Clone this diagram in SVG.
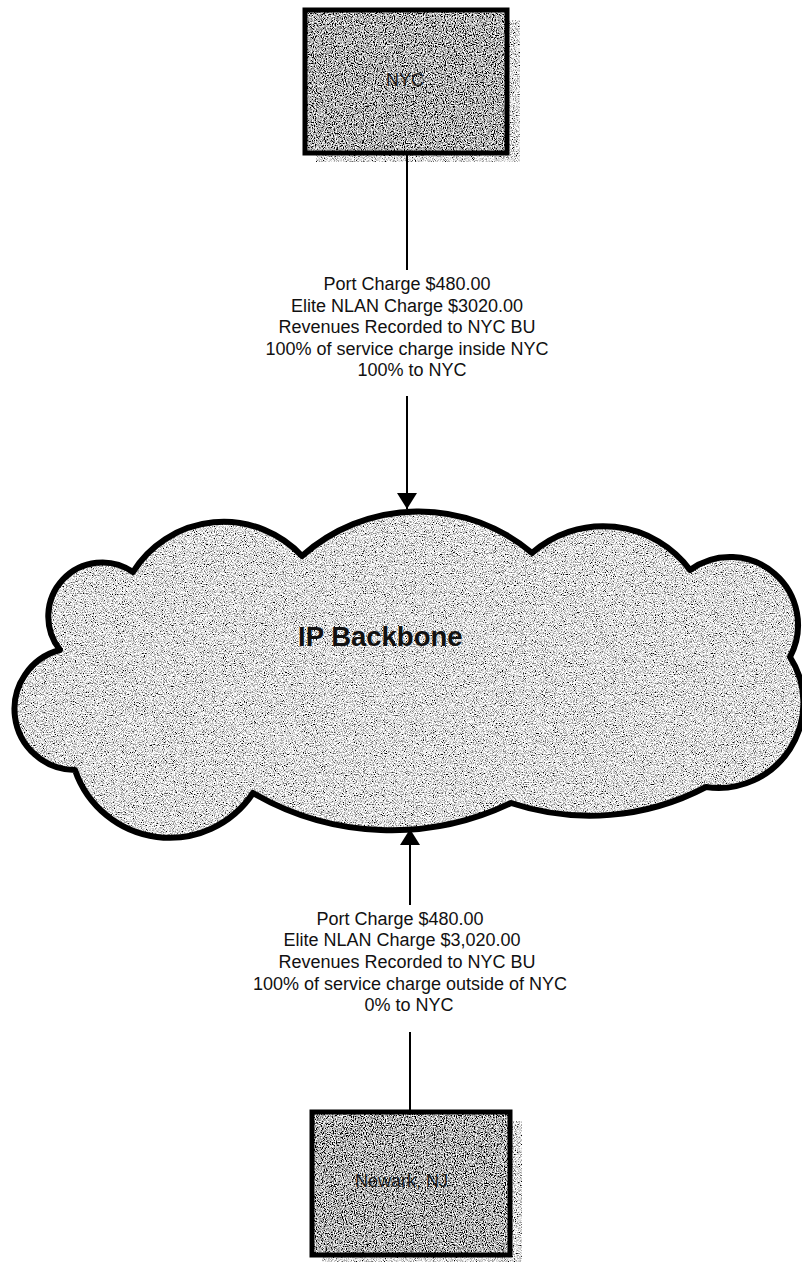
<svg xmlns="http://www.w3.org/2000/svg" width="802" height="1263" viewBox="0 0 802 1263">
  <style>
    .lbl { font-family: "Liberation Sans", Arial, sans-serif; font-size: 18px; fill: #111; text-anchor: middle; }
    .box-lbl { font-family: "Liberation Sans", Arial, sans-serif; font-size: 18px; fill: #1a1a1a; }
    .title { font-family: "Liberation Sans", Arial, sans-serif; font-size: 27.5px; font-weight: bold; fill: #111; }
    .edge { stroke: #000; stroke-width: 2; fill: none; }
    .frame { fill: none; stroke: #000; stroke-width: 5; }
  </style>
  <defs>
    <!-- speckled halftone texture, clipped to the shape it is applied to -->
    <filter id="grainDark" x="0" y="0" width="100%" height="100%">
      <feTurbulence type="fractalNoise" baseFrequency="0.9" numOctaves="2" seed="3" result="n"/>
      <feColorMatrix in="n" type="matrix" values="3 0 0 0 -1.05  3 0 0 0 -1.05  3 0 0 0 -1.05  0 0 0 0 1" result="g"/>
      <feComposite in="g" in2="SourceGraphic" operator="in"/>
    </filter>
    <filter id="grainLight" x="0" y="0" width="100%" height="100%">
      <feTurbulence type="fractalNoise" baseFrequency="0.9" numOctaves="2" seed="7" result="n"/>
      <feColorMatrix in="n" type="matrix" values="3 0 0 0 -0.75  3 0 0 0 -0.75  3 0 0 0 -0.75  0 0 0 0 1" result="g"/>
      <feComposite in="g" in2="SourceGraphic" operator="in"/>
    </filter>
    <marker id="arrow" viewBox="0 0 16 20" refX="16" refY="10" markerWidth="16" markerHeight="20" markerUnits="userSpaceOnUse" orient="auto">
      <path d="M0,0 L16,10 L0,20 Z" fill="#000"/>
    </marker>
    <path id="cloudShape" d="M302,556
      A175,175 0 0,1 532,553
      A108,108 0 0,1 690,570
      A68,68 0 0,1 790,657
      A85,85 0 0,1 706,787
      A250,250 0 0,1 511,803
      A276,276 0 0,1 253,793
      A100,100 0 0,1 75,770
      A61,61 0 0,1 60,650
      A54,54 0 0,1 133,572
      A107,107 0 0,1 302,556 Z"/>
  </defs>

  <rect width="802" height="1263" fill="#fff"/>

  <!-- NYC site -->
  <g id="nyc">
    <rect x="316" y="20" width="204" height="142" fill="#000" filter="url(#grainLight)"/>
    <rect x="305" y="10" width="202" height="143" fill="#000" filter="url(#grainDark)"/>
    <rect class="frame" x="305" y="10" width="202" height="143"/>
    <text class="box-lbl" x="386" y="86">NYC</text>
  </g>

  <!-- IP backbone cloud -->
  <g id="backbone">
    <use href="#cloudShape" fill="#000" filter="url(#grainLight)"/>
    <use href="#cloudShape" fill="none" stroke="#000" stroke-width="6" stroke-linejoin="round"/>
    <text class="title" x="298" y="646">IP Backbone</text>
  </g>

  <!-- Newark site -->
  <g id="newark">
    <rect x="322" y="1121" width="200" height="141" fill="#000" filter="url(#grainLight)"/>
    <rect x="312" y="1112" width="198" height="143" fill="#000" filter="url(#grainDark)"/>
    <rect class="frame" x="312" y="1112" width="198" height="143"/>
    <text class="box-lbl" x="355" y="1187">Newark, NJ</text>
  </g>

  <!-- connectors -->
  <g id="connectors">
    <line class="edge" x1="407" y1="153" x2="407" y2="270"/>
    <line class="edge" x1="407" y1="396" x2="407" y2="509" marker-end="url(#arrow)"/>
    <line class="edge" x1="410" y1="905" x2="410" y2="829" marker-end="url(#arrow)"/>
    <line class="edge" x1="410" y1="1032" x2="410" y2="1112"/>
  </g>

  <!-- charge notes -->
  <g id="note-nyc">
    <text class="lbl" x="407" y="290">Port Charge $480.00</text>
    <text class="lbl" x="407" y="311.5">Elite NLAN Charge $3020.00</text>
    <text class="lbl" x="407" y="333">Revenues Recorded to NYC BU</text>
    <text class="lbl" x="407" y="354.5">100% of service charge inside NYC</text>
    <text class="lbl" x="412" y="376">100% to NYC</text>
  </g>
  <g id="note-newark">
    <text class="lbl" x="400" y="924.5">Port Charge $480.00</text>
    <text class="lbl" x="402" y="946">Elite NLAN Charge $3,020.00</text>
    <text class="lbl" x="407" y="968">Revenues Recorded to NYC BU</text>
    <text class="lbl" x="410" y="989.5">100% of service charge outside of NYC</text>
    <text class="lbl" x="409" y="1011">0% to NYC</text>
  </g>
</svg>
